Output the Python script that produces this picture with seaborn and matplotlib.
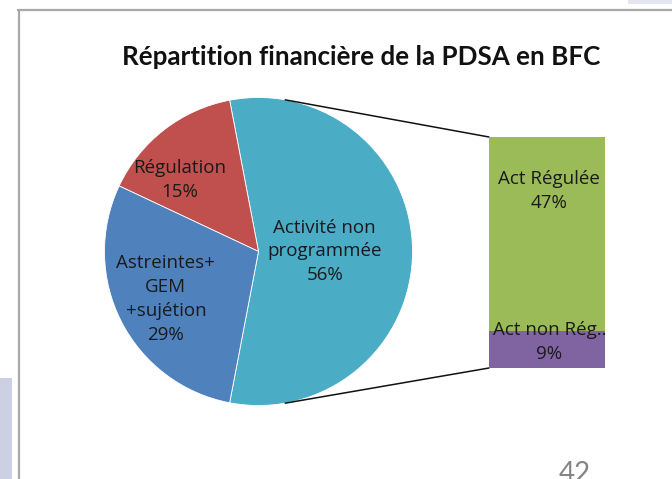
import numpy as np
import matplotlib
matplotlib.use("Agg")
import matplotlib.pyplot as plt
import seaborn as sns

# données
parts_pie = ["Activité non\nprogrammée", "Régulation", "Astreintes+\nGEM\n+sujétion"]
valeurs_pie = [56, 15, 29]
parts_barre = ["Act Régulée", "Act non Rég.."]
valeurs_barre = [47, 9]
titre = "Répartition financière de la PDSA en BFC"
numero_page = "42"

couleurs_pie = ["#4bacc6", "#c0504d", "#4f81bd"]
couleurs_barre = ["#9bbb59", "#8064a2"]

sns.set_theme(style="white")
plt.rcParams["font.family"] = ["Open Sans", "DejaVu Sans"]

W, H = 672, 479
fig = plt.figure(figsize=(W / 100, H / 100), dpi=100)
ax = fig.add_axes([0, 0, 1, 1])
ax.set_xlim(0, W)
ax.set_ylim(0, H)
ax.axis("off")

# cadre de la capture
ax.plot([17, W], [H - 9.5, H - 9.5], color="#a8a8a8", lw=1.6, solid_capstyle="butt")
ax.plot([18.5, 18.5], [0, H - 9], color="#a8a8a8", lw=1.6, solid_capstyle="butt")
ax.add_patch(plt.Rectangle((0, 0), 12, H - 378, color="#cdd0e3", lw=0))
ax.add_patch(plt.Rectangle((628, H - 4), 44, 4, color="#e4e5f0", lw=0))

ax.text(361, H - 57, titre, ha="center", va="center", fontsize=18.7,
        fontweight="bold", color="#111111", family=["Lato", "DejaVu Sans"])

# camembert
centre = (258.5, H - 251.5)
rayon = 154
angle_depart = -360 * valeurs_pie[0] / sum(valeurs_pie) / 2
wedges, _ = ax.pie(valeurs_pie, colors=couleurs_pie, startangle=angle_depart,
                   center=centre, radius=rayon, counterclock=True,
                   wedgeprops=dict(linewidth=0.6, edgecolor="white"))
ax.set_xlim(0, W)
ax.set_ylim(0, H)
ax.set_aspect("auto")

style_lbl = dict(ha="center", va="center", fontsize=13.5, color="#1a1a1a",
                 linespacing=1.42)
# placement des étiquettes : (décalage angulaire, distance relative au rayon)
place_labels = [(0, 0.43), (10, 0.69), (0, 0.675)]
for w, nom, v, (da, d) in zip(wedges, parts_pie, valeurs_pie, place_labels):
    a = np.deg2rad((w.theta1 + w.theta2) / 2 + da)
    x = centre[0] + d * rayon * np.cos(a)
    y = centre[1] + d * rayon * np.sin(a)
    ax.text(x, y, f"{nom}\n{v}%", **style_lbl)

# barre empilée
bx0, by0, bw, bh = 489, H - 368, 116, 231
bar_ax = fig.add_axes([bx0 / W, by0 / H, bw / W, bh / H])
total = sum(valeurs_barre)
sns.barplot(x=[0], y=[total], color=couleurs_barre[0], width=1, saturation=1,
            ax=bar_ax, linewidth=0)
sns.barplot(x=[0], y=[valeurs_barre[1]], color=couleurs_barre[1], width=1,
            saturation=1, ax=bar_ax, linewidth=0)
bar_ax.set_xlim(-0.5, 0.5)
bar_ax.set_ylim(0, total)
bar_ax.axis("off")
bar_ax.text(0.02, valeurs_barre[1] + valeurs_barre[0] * 0.72,
            f"{parts_barre[0]}\n{valeurs_barre[0]}%", **style_lbl)
bar_ax.text(0.02, valeurs_barre[1] * 0.71, f"{parts_barre[1]}\n{valeurs_barre[1]}%",
            **style_lbl)

# lignes de liaison
for ang, yb in [(80, by0 + bh), (-80, by0)]:
    a = np.deg2rad(ang)
    ax.plot([centre[0] + rayon * np.cos(a), bx0],
            [centre[1] + rayon * np.sin(a), yb], color="#111111", lw=1.1)

ax.text(575, H - 461, numero_page, ha="center", va="top", fontsize=20,
        color="#858585", family=["Lato", "DejaVu Sans"])

fig.savefig("out.png", dpi=100)
